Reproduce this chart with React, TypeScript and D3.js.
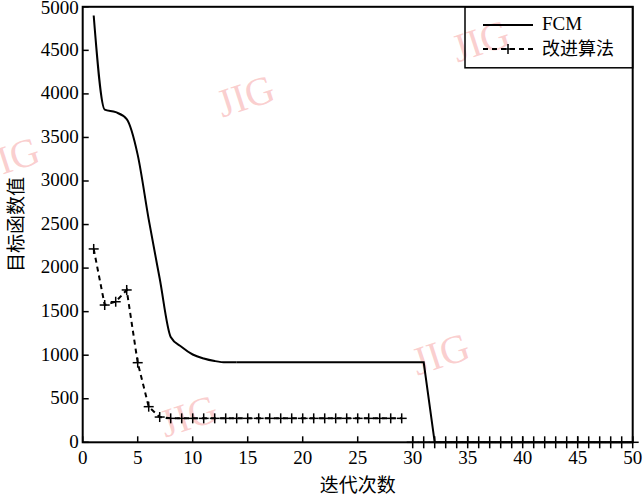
import React from "react";
import * as d3 from "d3";

const fcmIter = [1,2,3,4,5,6,7,8,9,10,11,12,13,14,15,16,17,18,19,20,21,22,23,24,25,26,27,28,29,30,31,32,33,34,35,36,37,38,39,40,41,42,43,44,45,46,47,48,49,50];
const fcmValues = [4900,3820,3790,3710,3300,2560,1880,1210,1094,1008,962,933,918,918,918,918,918,918,918,918,918,918,918,918,918,918,918,918,918,918,918,0,0,0,0,0,0,0,0,0,0,0,0,0,0,0,0,0,0,0];

const improvedIter = [1,2,3,4,5,6,7,8,9,10,11,12,13,14,15,16,17,18,19,20,21,22,23,24,25,26,27,28,29];
const improvedValues = [2220,1576,1614,1749,914,409,290,275,275,275,275,275,275,275,275,275,275,275,275,275,275,275,275,275,275,275,275,275,275];

const tailIter = [30,31,32,33,34,35,36,37,38,39,40,41,42,43,44,45,46,47,48,49,50];
const tailValues = [0,0,0,0,0,0,0,0,0,0,0,0,0,0,0,0,0,0,0,0,0];

const xTicks = [0,5,10,15,20,25,30,35,40,45,50];
const yTicks = [0,500,1000,1500,2000,2500,3000,3500,4000,4500,5000];

const xTitle = "迭代次数";
const yTitle = "目标函数值";
const legendLabels = ["FCM", "改进算法"];
const watermarks = [
  { x: 247, y: 100 },
  { x: 12, y: 162 },
  { x: 482, y: 45 },
  { x: 442, y: 358 },
  { x: 190, y: 420 },
];

const W = 644, H = 501;
const L = 82.7, R = 632.7, T = 6.8, B = 442.3;
const serif = "'Liberation Serif', 'Times New Roman', serif";
const cjk = "'Noto Sans CJK SC', sans-serif";

export default function App() {
  const x = d3.scaleLinear().domain([0, 50]).range([L, R]);
  const y = d3.scaleLinear().domain([0, 5000]).range([B, T]);

  const fcmPts = fcmIter.map((it, i) => [x(it), y(fcmValues[i])] as [number, number]);
  const smoothPart = fcmPts.slice(0, 14);
  const linearPart = fcmPts.slice(13);
  const smoothPath = d3.line().curve(d3.curveMonotoneX)(smoothPart) || "";
  const linPath = d3.line()(linearPart) || "";

  const impPts = improvedIter.map((it, i) => [x(it), y(improvedValues[i])] as [number, number]);
  const impPath = d3.line()(impPts) || "";
  const tailPts = tailIter.map((it, i) => [x(it), y(tailValues[i])] as [number, number]);

  const plus = (cx: number, cy: number, k: string, s = 5) => (
    <g key={k}>
      <line x1={cx - s} x2={cx + s} y1={cy} y2={cy} stroke="#000" strokeWidth={1.5} />
      <line x1={cx} x2={cx} y1={cy - s} y2={cy + s} stroke="#000" strokeWidth={1.5} />
    </g>
  );

  return (
    <svg width={W} height={H} style={{ position: "absolute", left: 0, top: 0, background: "#fff" }}>
      <rect x={0} y={0} width={W} height={H} fill="#fff" />
      {watermarks.map((w, i) => (
        <text key={"wm" + i} x={w.x} y={w.y} fontFamily={serif} fontSize={40} fill="#f6a5a5" fillOpacity={0.55}
          textAnchor="middle" dominantBaseline="middle" transform={`rotate(-18 ${w.x} ${w.y})`}>
          JIG
        </text>
      ))}
      {xTicks.map((t) => (
        <g key={"xt" + t}>
          <line x1={x(t)} x2={x(t)} y1={B} y2={B - 6} stroke="#000" strokeWidth={1.5} />
          <text x={x(t)} y={B + 17} fontFamily={serif} fontSize={19} textAnchor="middle" dominantBaseline="middle">{t}</text>
        </g>
      ))}
      {yTicks.map((t) => (
        <g key={"yt" + t}>
          <line x1={L} x2={L + 6} y1={y(t)} y2={y(t)} stroke="#000" strokeWidth={1.5} />
          <text x={L - 4} y={y(t) + (t === 5000 ? 3 : 1)} fontFamily={serif} fontSize={19} textAnchor="end" dominantBaseline="middle">{t}</text>
        </g>
      ))}
      <path d={smoothPath} fill="none" stroke="#000" strokeWidth={2} />
      <path d={linPath} fill="none" stroke="#000" strokeWidth={2} />
      <path d={impPath} fill="none" stroke="#000" strokeWidth={2} strokeDasharray="5,4" />
      {impPts.map((p, i) => plus(p[0], p[1], "ip" + i))}
      {tailPts.map((p, i) => plus(p[0], p[1], "tp" + i, 6))}
      <rect x={L} y={T} width={R - L} height={B - T} fill="none" stroke="#000" strokeWidth={2} />
      <rect x={465} y={T} width={R - 465} height={61} fill="none" stroke="#000" strokeWidth={1.5} />
      <line x1={483} x2={533} y1={25} y2={25} stroke="#000" strokeWidth={2} />
      <text x={542} y={26} fontFamily={serif} fontSize={19} dominantBaseline="middle">{legendLabels[0]}</text>
      <line x1={483} x2={533} y1={49} y2={49} stroke="#000" strokeWidth={2} strokeDasharray="5,4" />
      {plus(508, 49, "lg")}
      <text x={542} y={50} fontFamily={cjk} fontSize={18} dominantBaseline="middle">{legendLabels[1]}</text>
      <text x={(L + R) / 2} y={487} fontFamily={cjk} fontSize={19} textAnchor="middle" dominantBaseline="middle">{xTitle}</text>
      <text x={18} y={(T + B) / 2} fontFamily={cjk} fontSize={19} textAnchor="middle" dominantBaseline="middle"
        transform={`rotate(-90 18 ${(T + B) / 2})`}>{yTitle}</text>
    </svg>
  );
}
